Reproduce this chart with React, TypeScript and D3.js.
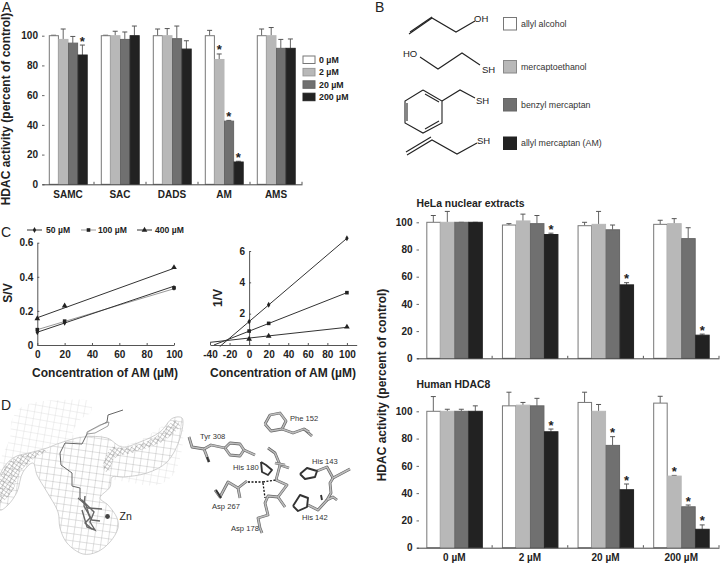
import React, { useEffect, useRef } from "react";
import * as d3 from "d3";

const FONT = "'Liberation Sans', Arial, sans-serif";

// Panel A
const aCategories = ["SAMC", "SAC", "DADS", "AM", "AMS"];
const aLegend = ["0 µM", "2 µM", "20 µM", "200 µM"];
const aValues = [
  [100, 97.5, 95, 87],
  [100, 100, 97.5, 100],
  [100, 100, 98, 91],
  [100, 84, 42.5, 15],
  [100, 100, 91.5, 91.5],
];
const aErrTop = [
  [100.3, 104.5, 99.5, 93.7],
  [100.3, 103, 102.5, 106.5],
  [104.5, 104.8, 106.5, 96.6],
  [103.6, 87.7, 43, 15.5],
  [104.5, 105.5, 97.5, 97.8],
];
const aStars = [
  [0, 3],
  [3, 1],
  [3, 2],
  [3, 3],
];

// Panel B
const bCategories = ["0 µM", "2 µM", "20 µM", "200 µM"];
const bLegend = ["allyl alcohol", "mercaptoethanol", "benzyl mercaptan", "allyl mercaptan (AM)"];
const helaValues = [
  [100, 100, 100, 100],
  [98, 101, 99, 91],
  [97.5, 98.5, 94.5, 54],
  [98.5, 99, 88, 17],
];
const helaErrTop = [
  [105, 108, 100, 100],
  [99, 106, 105, 92],
  [100, 108, 98, 55.6],
  [101.5, 102.7, 96, 17.8],
];
const helaStars = [
  [1, 3],
  [2, 3],
  [3, 3],
];
const hdac8Values = [
  [100, 100, 100, 100],
  [104, 104.5, 104, 85],
  [106.5, 100, 75, 42.5],
  [106, 52.5, 30, 13.5],
];
const hdac8ErrTop = [
  [110.8, 101.5, 101.5, 104],
  [114, 106.5, 109.5, 87],
  [114, 105, 81.4, 46.7],
  [111, 53, 31.3, 16.7],
];
const hdac8Stars = [
  [1, 3],
  [2, 2],
  [2, 3],
  [3, 1],
  [3, 2],
  [3, 3],
];

// Panel C
const cLegend = ["50 µM", "100 µM", "400 µM"];
const cXs = [0, 20, 100];
const sv50 = [0.075, 0.13, 0.335];
const sv100 = [0.09, 0.14, 0.335];
const sv400 = [0.155, 0.23, 0.455];
const svFit50 = [[0, 0.075], [100, 0.345]];
const svFit100 = [[0, 0.09], [100, 0.33]];
const svFit400 = [[0, 0.16], [100, 0.45]];
const inv50 = [1.49, 2.57, 6.81];
const inv100 = [0.89, 1.38, 3.34];
const inv400 = [0.38, 0.57, 1.15];
const invFit50 = [[-30, -0.1], [100, 6.81]];
const invFit100 = [[-36, 0], [100, 3.34]];
const invFit400 = [[-40, 0.17], [100, 1.13]];

// Panel B structures, in px of the page
const structures = [
  [[409, 34], [432, 18], [456, 32], [475, 21]],
  [[410, 32], [432, 17]],
  [[420, 57], [438, 69], [462, 53], [480, 65]],
  [[423, 90], [442, 101], [442, 123], [423, 133], [405, 123], [405, 101], [423, 90]],
  [[442, 101], [460, 90], [475, 98]],
  [[407, 103], [407, 121]],
  [[425, 94], [439, 102]],
  [[425, 129], [439, 121]],
  [[407, 155], [432, 140], [457, 154], [477, 143]],
  [[406, 152], [431, 137]],
];
const structureLabels = [
  ["OH", 474, 22],
  ["HO", 403, 57],
  ["SH", 482, 73],
  ["SH", 476, 104],
  ["SH", 477, 144],
];

// Panel D, protein sticks in px of the page
const sticks = [
  [[265, 424], [270, 415], [280, 413], [286, 421], [282, 429], [271, 431], [265, 424]],
  [[282, 429], [293, 433], [304, 429], [312, 436]],
  [[304, 429], [309, 432]],
  [[189, 437], [192, 447], [204, 449], [209, 462]],
  [[204, 449], [211, 445], [225, 448]],
  [[225, 448], [230, 443], [240, 444], [244, 450], [240, 456], [230, 455], [225, 448]],
  [[244, 450], [255, 455]],
  [[268, 448], [275, 453], [280, 465], [289, 468]],
  [[275, 463], [285, 465]],
  [[280, 465], [276, 480], [287, 485], [278, 497], [285, 507]],
  [[278, 497], [268, 496], [265, 503], [268, 515], [258, 518], [260, 528], [262, 533]],
  [[215, 490], [220, 497], [228, 482], [238, 488], [247, 481]],
  [[238, 488], [240, 498]],
  [[317, 471], [327, 467], [333, 478], [350, 469]],
  [[333, 478], [330, 483], [331, 493], [327, 500], [333, 497], [337, 500]],
  [[327, 500], [318, 510], [308, 505]],
];
const darkSticks = [
  [[261, 462], [266, 465], [272, 470], [268, 475], [262, 472], [261, 462]],
  [[300, 474], [307, 468], [317, 471], [315, 477], [305, 479], [300, 474]],
  [[293, 506], [300, 495], [308, 498], [307, 507], [298, 511], [293, 506]],
  [[207, 457], [209, 462]],
  [[216, 490], [221, 498]],
  [[321, 495], [322, 500]],
];
const bonds = [
  [[248, 482], [263, 482]],
  [[263, 482], [276, 480]],
  [[263, 483], [265, 498]],
];
const dLabels = [
  ["Phe 152", 290, 421],
  ["Tyr 308", 200, 439],
  ["His 180", 233, 470],
  ["His 143", 312, 464],
  ["His 142", 302, 520],
  ["Asp 267", 212, 509],
  ["Asp 178", 231, 531],
];

// Cavity mesh outlines and the ligand inside it
const cavityFaint = [
  [0, 462], [10, 438], [12, 420], [20, 408], [37, 402], [63, 400], [90, 402], [91, 412], [80, 420],
  [73, 435], [100, 435], [120, 445], [140, 440], [180, 418], [183, 442], [173, 475], [157, 485],
  [127, 482], [107, 478], [67, 462], [33, 462], [10, 482], [0, 495],
];
const cavityMain = [
  [0, 475], [13, 458], [33, 452], [47, 448], [60, 443], [83, 437], [107, 438], [122, 447], [140, 442],
  [160, 432], [173, 418], [182, 418], [180, 438], [167, 462], [147, 473], [123, 477], [112, 477],
  [110, 487], [100, 498], [108, 505], [117, 518], [118, 528], [110, 542], [97, 552], [83, 554],
  [67, 543], [60, 528], [58, 512], [47, 492], [37, 475], [33, 463], [23, 472], [17, 492], [8, 505], [0, 510],
];
const cavityWings = [
  [[0, 478], [12, 460], [33, 452], [48, 450], [32, 460], [20, 472], [12, 492], [0, 502]],
  [[103, 468], [112, 447], [122, 448], [140, 444], [160, 434], [175, 420], [180, 425], [165, 440], [135, 452], [115, 458], [108, 472]],
];
const ligand = [
  [123, 410], [108, 415], [107, 422], [88, 432], [87, 434], [82, 444], [65, 443], [60, 453], [61, 465],
  [72, 473], [72, 486], [80, 488], [80, 498], [88, 508],
];
const ligandRing = [
  [87, 432], [100, 425], [109, 422], [108, 426], [95, 433], [87, 434], [87, 432],
];
const ligandCore = [
  [[78, 498], [86, 505], [90, 518], [85, 523], [92, 529]],
  [[82, 500], [94, 512], [90, 522], [95, 530], [87, 527], [82, 510]],
  [[88, 508], [102, 509]],
  [[85, 496], [84, 506], [92, 520], [100, 521]],
];

const barFill = ["#ffffff", "#b8b8b8", "#707070", "#222222"];
const barStroke = ["#777777", "#b8b8b8", "#666666", "#222222"];
const symbols = [d3.symbolDiamond, d3.symbolSquare, d3.symbolTriangle];
const symbolSizes = [10, 13, 14];

function barPanel(svg, opts) {
  const x = d3.scaleBand().domain(opts.categories).range(opts.xRange);
  const y = d3.scaleLinear().domain([0, 100]).range(opts.yRange);
  const inner = d3.scaleBand().domain(d3.range(4)).range([0, opts.groupWidth]);
  const offset = (x.bandwidth() - opts.groupWidth) / 2;

  // Axes
  const yAxis = svg.append("g")
    .attr("transform", "translate(" + opts.xRange[0] + ",0)")
    .call(d3.axisLeft(y).ticks(6).tickSize(-2.5).tickPadding(4).tickSizeOuter(0));
  yAxis.select(".domain").remove();
  yAxis.selectAll("line").attr("stroke", "#666");
  yAxis.selectAll("text").attr("font-size", 10).attr("font-weight", "bold").attr("font-family", FONT).attr("fill", "#222");

  // Bars first, baseline over them
  opts.values.forEach((row, i) => {
    const cat = opts.categories[i];
    const g = svg.append("g").attr("transform", "translate(" + (x(cat) + offset) + ",0)");
    g.selectAll("line.err").data(row).enter().append("line")
      .attr("x1", (d, j) => inner(j) + inner.bandwidth() / 2)
      .attr("x2", (d, j) => inner(j) + inner.bandwidth() / 2)
      .attr("y1", (d) => y(d))
      .attr("y2", (d, j) => y(opts.errTop[i][j]))
      .attr("stroke", "#666");
    g.selectAll("line.cap").data(row).enter().append("line")
      .attr("x1", (d, j) => inner(j) + inner.bandwidth() / 2 - 2.5)
      .attr("x2", (d, j) => inner(j) + inner.bandwidth() / 2 + 2.5)
      .attr("y1", (d, j) => y(opts.errTop[i][j]))
      .attr("y2", (d, j) => y(opts.errTop[i][j]))
      .attr("stroke", "#555");
    g.selectAll("rect").data(row).enter().append("rect")
      .attr("x", (d, j) => inner(j) + 0.5)
      .attr("y", (d) => y(d))
      .attr("width", inner.bandwidth() - 0.5)
      .attr("height", (d) => y(0) - y(d))
      .attr("fill", (d, j) => barFill[j])
      .attr("stroke", (d, j) => barStroke[j]);
    opts.stars.filter((s) => s[0] === i).forEach((s) => {
      g.append("text")
        .attr("x", inner(s[1]) + inner.bandwidth() / 2)
        .attr("y", y(opts.errTop[i][s[1]]) + 0.5)
        .attr("text-anchor", "middle")
        .attr("font-size", 13)
        .attr("font-weight", "bold")
        .attr("font-family", FONT)
        .attr("fill", "#222")
        .text("*");
    });
  });

  const xAxis = svg.append("g")
    .attr("transform", "translate(0," + y(0) + ")")
    .call(d3.axisBottom(x).tickSize(0).tickPadding(opts.labelPad).tickFormat(opts.showLabels ? null : () => ""));
  xAxis.select(".domain").attr("stroke", "#444");
  xAxis.selectAll("text").attr("font-size", 10).attr("font-weight", "bold").attr("font-family", FONT).attr("fill", "#222");
  // ticks sit between the groups, pointing up
  xAxis.selectAll("line.between").data(opts.categories).enter().append("line")
    .attr("x1", (d) => x(d) + x.step())
    .attr("x2", (d) => x(d) + x.step())
    .attr("y1", 0)
    .attr("y2", -2.5)
    .attr("stroke", "#555");
}

function linePanel(svg, opts) {
  const x = d3.scaleLinear().domain(opts.xDomain).range(opts.xRange);
  const y = d3.scaleLinear().domain(opts.yDomain).range(opts.yRange);
  const line = d3.line().x((d) => x(d[0])).y((d) => y(d[1]));

  const yAxis = svg.append("g")
    .attr("transform", "translate(" + x(0) + ",0)")
    .call(d3.axisLeft(y).tickValues(opts.yTicks).tickFormat(String).tickSize(-2).tickPadding(4).tickSizeOuter(0));
  const xAxis = svg.append("g")
    .attr("transform", "translate(0," + y(0) + ")")
    .call(d3.axisBottom(x).tickValues(opts.xTicks).tickFormat(String).tickSize(-2).tickPadding(6).tickSizeOuter(0));
  [yAxis, xAxis].forEach((a) => {
    a.select(".domain").attr("stroke", "#555");
    a.selectAll("line").attr("stroke", "#555");
    a.selectAll("text").attr("font-size", 10).attr("font-weight", "bold").attr("font-family", FONT).attr("fill", "#222");
  });

  opts.fits.forEach((f, i) => {
    svg.append("path").attr("d", line(f)).attr("fill", "none")
      .attr("stroke", opts.fitColors[i]).attr("stroke-width", 1);
  });
  opts.series.forEach((s, i) => {
    svg.append("g").selectAll("path").data(s).enter().append("path")
      .attr("d", d3.symbol().type(symbols[i]).size(symbolSizes[i]))
      .attr("transform", (d, j) => "translate(" + x(cXs[j]) + "," + y(d) + ")")
      .attr("fill", "#222");
  });
}

function addText(svg, str, x, y, size, weight, extra) {
  const t = svg.append("text")
    .attr("x", x)
    .attr("y", y)
    .attr("font-size", size)
    .attr("font-weight", weight)
    .attr("font-family", FONT)
    .attr("fill", "#222")
    .text(str);
  if (extra) t.attr("text-anchor", extra);
  return t;
}

function addVertical(svg, str, x, y, size) {
  svg.append("text")
    .attr("transform", "translate(" + x + "," + y + ") rotate(-90)")
    .attr("text-anchor", "middle")
    .attr("font-size", size)
    .attr("font-weight", "bold")
    .attr("font-family", FONT)
    .attr("fill", "#222")
    .text(str);
}

export default function App() {
  const ref = useRef(null);

  useEffect(() => {
    const svg = d3.select(ref.current);
    svg.selectAll("*").remove();
    const path = d3.line();
    const closed = d3.line().curve(d3.curveCatmullRomClosed.alpha(0.5));

    // Panel letters
    addText(svg, "A", 2, 12, 14, "normal");
    addText(svg, "B", 375, 12, 14, "normal");
    addText(svg, "C", 1, 237, 14, "normal");
    addText(svg, "D", 1, 410, 14, "normal");

    // A
    barPanel(svg, {
      categories: aCategories,
      values: aValues,
      errTop: aErrTop,
      stars: aStars,
      xRange: [42, 302],
      yRange: [184.3, 35.7],
      groupWidth: 38.4,
      labelPad: 7,
      showLabels: true,
    });
    addVertical(svg, "HDAC activity (percent of control)", 10, 109, 12);
    aLegend.forEach((d, i) => {
      const yy = 56 + i * 12.4;
      svg.append("rect").attr("x", 303).attr("y", yy).attr("width", 12).attr("height", 7.5)
        .attr("fill", barFill[i]).attr("stroke", barStroke[i] === "#b8b8b8" ? "#999" : barStroke[i]);
      addText(svg, d, 319, yy + 7, 8.8, "bold");
    });

    // B structures and key
    structures.forEach((s) => {
      svg.append("path").attr("d", path(s)).attr("fill", "none").attr("stroke", "#222").attr("stroke-width", 1.1);
    });
    structureLabels.forEach((s) => addText(svg, s[0], s[1], s[2], 9.5, "normal"));
    bLegend.forEach((d, i) => {
      const yy = [17.5, 60.5, 98.5, 137][i];
      svg.append("rect").attr("x", 503.5).attr("y", yy).attr("width", 13).attr("height", 12.5)
        .attr("fill", barFill[i]).attr("stroke", i === 1 ? "#888" : barStroke[i]);
      addText(svg, d, 521, yy + 9, 8.8, "normal").attr("fill", "#333");
    });

    // B charts
    addText(svg, "HeLa nuclear extracts", 416.5, 207, 10.4, "bold");
    barPanel(svg, {
      categories: bCategories,
      values: helaValues,
      errTop: helaErrTop,
      stars: helaStars,
      xRange: [416.5, 719],
      yRange: [358.3, 222.3],
      groupWidth: 56,
      labelPad: 6,
      showLabels: false,
    });
    addText(svg, "Human HDAC8", 416.5, 388, 10.4, "bold");
    barPanel(svg, {
      categories: bCategories,
      values: hdac8Values,
      errTop: hdac8ErrTop,
      stars: hdac8Stars,
      xRange: [416.5, 719],
      yRange: [547.7, 411.3],
      groupWidth: 56,
      labelPad: 6,
      showLabels: true,
    });
    addVertical(svg, "HDAC activity (percent of control)", 386, 385, 12);

    // C
    cLegend.forEach((d, i) => {
      const x0 = [27, 81, 137][i];
      svg.append("line").attr("x1", x0).attr("x2", x0 + 15).attr("y1", 230).attr("y2", 230)
        .attr("stroke", i === 1 ? "#999" : "#333");
      svg.append("path").attr("d", d3.symbol().type(symbols[i]).size(symbolSizes[i]))
        .attr("transform", "translate(" + (x0 + 7.5) + ",230)").attr("fill", "#222");
      addText(svg, d, [46, 98, 155][i], 233, 8.6, "bold");
    });
    linePanel(svg, {
      xDomain: [0, 100],
      xRange: [37.3, 174],
      yDomain: [0, 0.6],
      yRange: [345, 242.7],
      xTicks: [0, 20, 40, 60, 80, 100],
      yTicks: [0, 0.2, 0.4, 0.6],
      fits: [svFit100, svFit50, svFit400],
      fitColors: ["#999", "#333", "#333"],
      series: [sv50, sv100, sv400],
    });
    linePanel(svg, {
      xDomain: [-40, 110],
      xRange: [210, 356.7],
      yDomain: [0, 6],
      yRange: [345, 251],
      xTicks: [-40, -20, 0, 20, 40, 60, 80, 100],
      yTicks: [2, 4, 6],
      fits: [invFit50, invFit100, invFit400],
      fitColors: ["#333", "#333", "#333"],
      series: [inv50, inv100, inv400],
    });
    addVertical(svg, "S/V", 12, 293, 12);
    addVertical(svg, "1/V", 222, 298, 12);
    addText(svg, "Concentration of AM (µM)", 105, 377, 12, "bold", "middle");
    addText(svg, "Concentration of AM (µM)", 283, 377, 12, "bold", "middle");

    // D mesh
    const defs = svg.append("defs");
    const mesh = (id, step, angle, color, width) => {
      const p = defs.append("pattern").attr("id", id).attr("patternUnits", "userSpaceOnUse")
        .attr("width", step).attr("height", step)
        .attr("patternTransform", "rotate(" + angle + ")");
      p.append("path").attr("d", "M0 0H" + step + "M0 0V" + step)
        .attr("stroke", color).attr("stroke-width", width).attr("fill", "none");
    };
    mesh("meshFaint", 7, 10, "#d4d4d4", 0.7);
    mesh("meshMain", 7, 8, "#a6a6a6", 0.7);
    mesh("meshDense", 3.5, 35, "#808080", 0.7);
    svg.append("path").attr("d", closed(cavityFaint)).attr("fill", "url(#meshFaint)");
    svg.append("path").attr("d", closed(cavityMain)).attr("fill", "#fff");
    svg.append("path").attr("d", closed(cavityMain)).attr("fill", "url(#meshMain)").attr("stroke", "#bbb").attr("stroke-width", 0.7);
    cavityWings.forEach((w) => {
      svg.append("path").attr("d", closed(w)).attr("fill", "url(#meshDense)");
    });

    // ligand
    svg.append("path").attr("d", path(ligand)).attr("fill", "none").attr("stroke", "#666").attr("stroke-width", 1);
    svg.append("path").attr("d", path(ligandRing)).attr("fill", "#fff").attr("fill-opacity", 0.6).attr("stroke", "#888").attr("stroke-width", 0.8);
    ligandCore.forEach((s) => {
      svg.append("path").attr("d", path(s)).attr("fill", "none").attr("stroke", "#666").attr("stroke-width", 1.4);
    });
    svg.append("circle").attr("cx", 107.5).attr("cy", 516.5).attr("r", 2.4).attr("fill", "#444");
    addText(svg, "Zn", 119.5, 520, 10.5, "normal");

    // D sticks
    sticks.forEach((s) => {
      svg.append("path").attr("d", path(s)).attr("fill", "none").attr("stroke", "#666").attr("stroke-width", 2.8).attr("stroke-linejoin", "round");
      svg.append("path").attr("d", path(s)).attr("fill", "none").attr("stroke", "#bdbdbd").attr("stroke-width", 1.5).attr("stroke-linejoin", "round");
    });
    darkSticks.forEach((s) => {
      svg.append("path").attr("d", path(s)).attr("fill", "none").attr("stroke", "#333").attr("stroke-width", 1.9).attr("stroke-linejoin", "round");
    });
    bonds.forEach((s) => {
      svg.append("path").attr("d", path(s)).attr("fill", "none").attr("stroke", "#111").attr("stroke-width", 1.3).attr("stroke-dasharray", "2 1.5");
    });
    dLabels.forEach((s) => addText(svg, s[0], s[1], s[2], 7.6, "normal").attr("fill", "#333"));
  }, []);

  return (
    <svg
      ref={ref}
      width={720}
      height={563}
      style={{ position: "absolute", left: 0, top: 0, background: "#fff" }}
    ></svg>
  );
}
